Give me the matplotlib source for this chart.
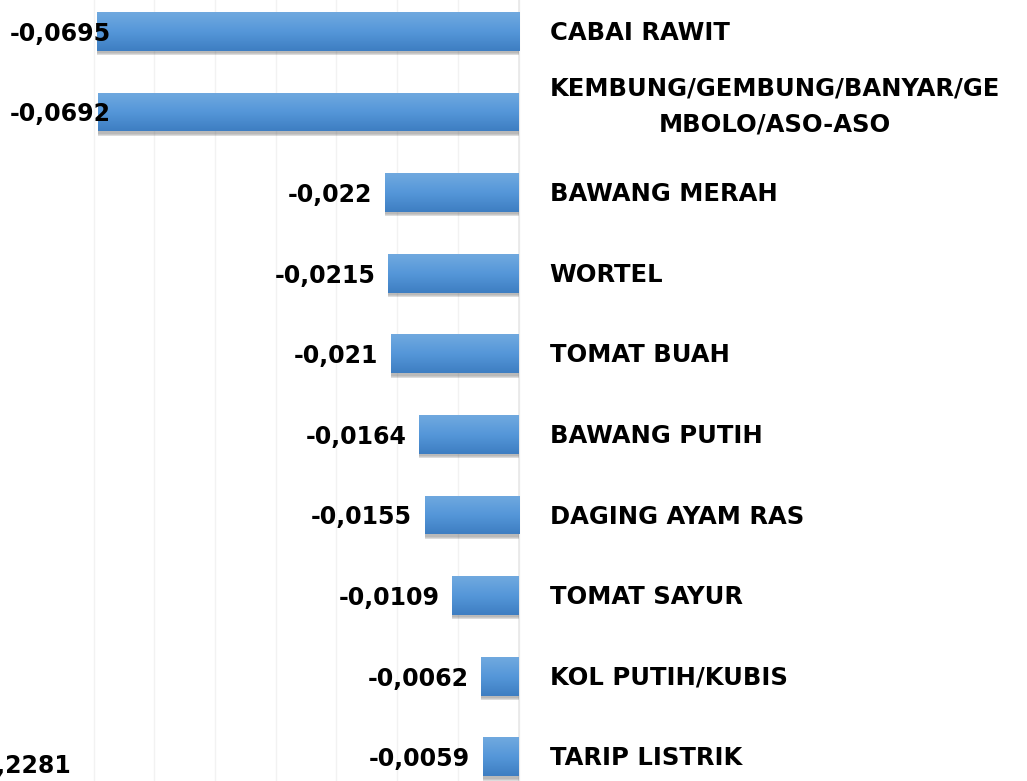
import matplotlib
matplotlib.use("Agg")
import matplotlib.pyplot as plt
import numpy as np
from matplotlib.colors import LinearSegmentedColormap

# komoditas penyumbang deflasi (andil, %)
komoditas = [
    "CABAI RAWIT",
    "KEMBUNG/GEMBUNG/BANYAR/GE\nMBOLO/ASO-ASO",
    "BAWANG MERAH",
    "WORTEL",
    "TOMAT BUAH",
    "BAWANG PUTIH",
    "DAGING AYAM RAS",
    "TOMAT SAYUR",
    "KOL PUTIH/KUBIS",
    "TARIP LISTRIK",
]
andil = [-0.0695, -0.0692, -0.022, -0.0215, -0.021, -0.0164, -0.0155, -0.0109, -0.0062, -0.0059]
label_andil = ["-0,0695", "-0,0692", "-0,022", "-0,0215", "-0,021", "-0,0164",
               "-0,0155", "-0,0109", "-0,0062", "-0,0059"]
# label batang di luar bidang yang terpotong
label_lain = "-0,2281"

plt.rcParams["font.family"] = ["DejaVu Sans"]

fig = plt.figure(figsize=(10.27, 7.81), dpi=100)
ax = fig.add_axes([0, 0, 1, 1])

xmin, xmax = -0.0854, 0.0837
ax.set_xlim(xmin, xmax)
ax.set_ylim(9.30, -0.39)
ax.axis("off")

# garis bantu vertikal tipis
for g in np.arange(-0.07, 0.001, 0.01):
    ax.axvline(g, color="#f2f2f2", lw=1, zorder=0)
ax.axvline(0, color="#e8e8e8", lw=1.2, zorder=0)

tinggi = 0.48
cmap = LinearSegmentedColormap.from_list("biru", ["#70a9df", "#5597d9", "#3e7ec2"])
grad = np.linspace(0, 1, 64).reshape(-1, 1)

y = np.arange(len(komoditas))
for i, v in enumerate(andil):
    # bayangan lembut di bawah batang
    for k, a in enumerate([0.10, 0.13, 0.18]):
        ax.barh(y[i] + 0.03 + 0.012 * k, v, height=tinggi, color="#404040",
                alpha=a, zorder=1, linewidth=0)
    bars = ax.barh(y[i], v, height=tinggi, color="none", zorder=2, linewidth=0)
    im = ax.imshow(grad, cmap=cmap, aspect="auto", zorder=2,
                   extent=[v, 0, y[i] + tinggi / 2, y[i] - tinggi / 2])
    im.set_clip_path(bars[0])

# label nilai
fs = 17
for i, v in enumerate(andil):
    if v < -0.05:
        ax.text(xmin + 0.0016, y[i] + 0.03, label_andil[i], ha="left", va="center",
                fontsize=fs, fontweight="bold", color="black", zorder=3)
    else:
        ax.text(v - 0.0021, y[i] + 0.03, label_andil[i], ha="right", va="center",
                fontsize=fs, fontweight="bold", color="black", zorder=3)

# label kategori
for i, k in enumerate(komoditas):
    dy = -0.07 if "\n" in k else 0.02
    ax.text(0.0051, y[i] + dy, k, ha="left", va="center", multialignment="center",
            fontsize=17.5, fontweight="bold", color="black", linespacing=1.6)

ax.text(xmin + 0.0117, 9.12, label_lain, ha="right", va="center",
        fontsize=fs, fontweight="bold", color="black")

fig.savefig("out.png", dpi=100)
